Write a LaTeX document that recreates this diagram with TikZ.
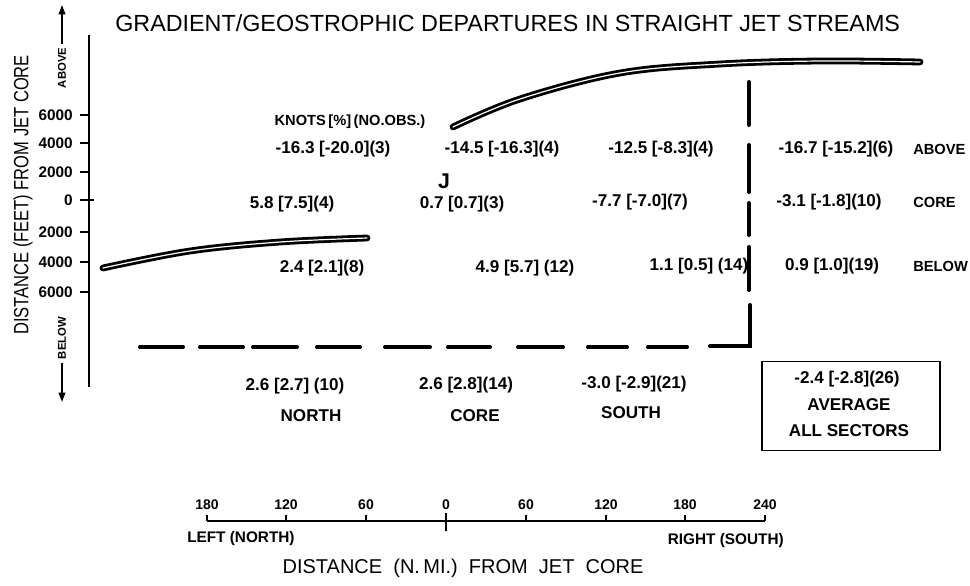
\documentclass[tikz,border=0pt]{standalone}
\usepackage{fontspec}
\usepackage{graphicx}
\setmainfont{Liberation Sans}
\usetikzlibrary{arrows.meta}
\begin{document}
\begin{tikzpicture}[x=0.75pt,y=-0.75pt,
  dat/.style={font=\bfseries\fontsize{12.8}{12.8}\selectfont, inner sep=0pt},
  sml/.style={font=\bfseries\fontsize{11}{11}\selectfont, inner sep=0pt},
  ticklab/.style={font=\bfseries\fontsize{11.5}{11.5}\selectfont, inner sep=0pt},
  axlab/.style={font=\bfseries\fontsize{10.5}{10.5}\selectfont, inner sep=0pt},
  sidelab/.style={font=\bfseries\fontsize{8.5}{8.5}\selectfont, inner sep=0pt, rotate=90},
  jet/.style={double, double distance=0.9pt, line width=2.1pt, line cap=round},
  heavy/.style={line width=3pt, line cap=round},
  axisline/.style={line width=1.6pt},
  thinaxis/.style={line width=1.2pt},
  arr/.style={line width=1.3pt, -{Triangle[length=7pt,width=5pt]}}]
\useasboundingbox (0,0) rectangle (970,585);

% title
\node[anchor=west, font=\fontsize{17.5}{17.5}\selectfont, inner sep=0pt] (title) at (115,23)
  {GRADIENT/GEOSTROPHIC DEPARTURES IN STRAIGHT JET STREAMS};

% vertical axis
\coordinate (yt) at (89,35);
\coordinate (yb) at (89,387);
\draw[axisline] (yt) -- (yb);
\foreach \y/\l/\n in {115/6000/a, 143/4000/b, 172/2000/c, 232/2000/e, 262/4000/f, 292/6000/g}{
  \draw[axisline] (80,\y) -- (89,\y);
  \node[ticklab, anchor=east] (yl\n) at (73,\y) {\l};
}
\draw[axisline] (80,200) -- (94,200);
\node[ticklab, anchor=east] (yld) at (73,200) {0};

\node[rotate=90, font=\fontsize{15.5}{15.5}\selectfont, inner sep=0pt] (ylab) at (23,195)
  {\scalebox{0.8}[1]{DISTANCE (FEET) FROM JET CORE}};

\node[sidelab] (abv) at (62,68) {ABOVE};
\node[sidelab] (blw) at (62,338) {BELOW};
\coordinate (uptip) at (62,5);
\coordinate (dntip) at (62,402);
\draw[arr] (abv.east) ++(0,-4) -- (uptip);
\draw[arr] (blw.west) ++(0,4) -- (dntip);

% jet streams
\draw[jet] plot[smooth, tension=0.6] coordinates {(103,268) (190,251) (280,242) (367,238)};
\draw[jet] plot[smooth, tension=0.6] coordinates {(453,127) (520,99) (620,73) (720,64) (820,61) (920,62)};

% heavy dashed boundary
\coordinate (corner) at (750,346);
\foreach \a/\b in {82/125, 145/192, 203/235, 247/290}{
  \draw[heavy] (749,\a) -- (749,\b);
}
\draw[heavy] (750,305) -- (corner) -- (710,346);
\foreach \a/\b in {140/183, 200/243, 253/297, 317/360, 385/430, 448/490, 518/563, 588/627, 648/687}{
  \draw[heavy] (\a,347) -- (\b,347);
}

% data labels
\node[sml] (knots) at (350,122) {KNOTS\,[\%]\,(NO.OBS.)};
\node[dat] (n1) at (333,149) {-16.3 [-20.0](3)};
\node[dat] (c1) at (502,149) {-14.5 [-16.3](4)};
\node[dat] (s1) at (661,149) {-12.5 [-8.3](4)};
\node[dat] (r1) at (836,149) {-16.7 [-15.2](6)};
\node[sml, anchor=west] (labove) at (913,149) {ABOVE};

\node[font=\bfseries\fontsize{16}{16}\selectfont, inner sep=0pt] (J) at (444,181) {J};
\node[dat] (n2) at (292,204) {5.8 [7.5](4)};
\node[dat] (c2) at (462,204) {0.7 [0.7](3)};
\node[dat] (s2) at (640,202) {-7.7 [-7.0](7)};
\node[dat] (r2) at (829,202) {-3.1 [-1.8](10)};
\node[sml, anchor=west] (lcore) at (913,202) {CORE};

\node[dat] (n3) at (322,268) {2.4 [2.1](8)};
\node[dat] (c3) at (525,268) {4.9 [5.7] (12)};
\node[dat] (s3) at (699,266) {1.1 [0.5] (14)};
\node[dat] (r3) at (832,266) {0.9 [1.0](19)};
\node[sml, anchor=west] (lbelow) at (913,266) {BELOW};

\node[dat] (n4) at (295,386) {2.6 [2.7] (10)};
\node[dat] (c4) at (466,385) {2.6 [2.8](14)};
\node[dat] (s4) at (634,384) {-3.0 [-2.9](21)};
\node[dat] (north) at (311,416) {NORTH};
\node[dat] (core) at (475,416) {CORE};
\node[dat] (south) at (631,413) {SOUTH};

% average box
\node[draw, line width=1.2pt, minimum width=133.5pt, minimum height=67pt, inner sep=0pt] (box) at (851,406) {};
\node[dat] (avg) at (847,379) {-2.4 [-2.8](26)};
\node[dat] (avg2) at (849,405) {AVERAGE};
\node[dat] (avg3) at (849,431) {ALL SECTORS};

% horizontal distance axis
\coordinate (xl) at (207,521);
\coordinate (xr) at (765,521);
\draw[thinaxis] (xl) -- (xr);
\foreach \x/\l in {207/180, 286/120, 366/60, 526/60, 606/120, 685/180, 765/240}{
  \draw[thinaxis] (\x,521) -- (\x,515);
  \node[axlab] (bx\x) at (\x,505) {\l};
}
\draw[thinaxis] (446,513) -- (446,531);
\node[axlab] (bx446) at (446,505) {0};
\node[axlab, font=\bfseries\fontsize{11.5}{11.5}\selectfont, anchor=west] (left) at (187,539) {LEFT (NORTH)};
\node[axlab, font=\bfseries\fontsize{11.5}{11.5}\selectfont, anchor=east] (right) at (784,541) {RIGHT (SOUTH)};
\node[font=\fontsize{15}{15}\selectfont, inner sep=0pt] (xlab) at (463,568)
  {DISTANCE~~(N.\,MI.)~~FROM~~JET~~CORE};
\end{tikzpicture}
\end{document}
